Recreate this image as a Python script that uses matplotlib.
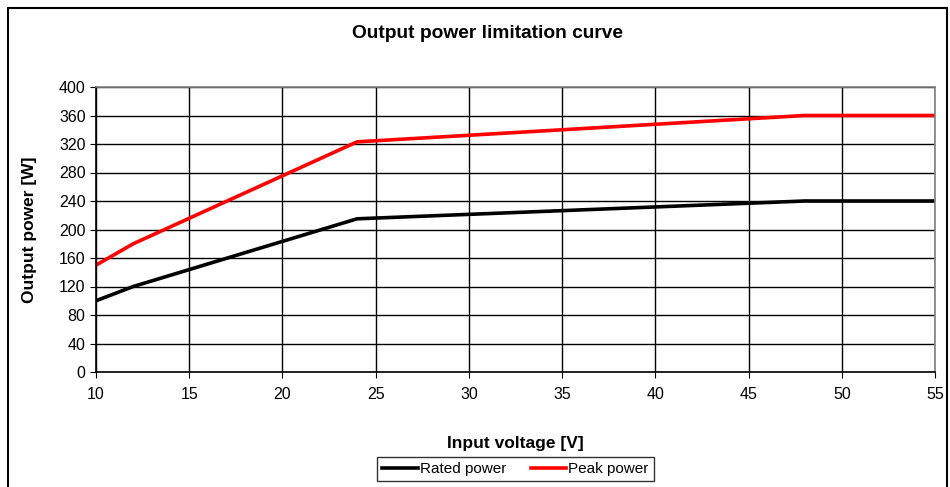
import matplotlib.pyplot as plt
from matplotlib.patches import Rectangle

plt.rcParams['font.family'] = ['Liberation Sans', 'DejaVu Sans']

# input voltage points [V]
voltage = [10, 12, 24, 48, 55]
rated_power = [100, 120, 215, 240, 240]
peak_power = [150, 180, 323, 360, 360]

x_ticks = [10, 15, 20, 25, 30, 35, 40, 45, 50, 55]
y_ticks = [0, 40, 80, 120, 160, 200, 240, 280, 320, 360, 400]

fig = plt.figure(figsize=(9.5, 4.87), dpi=100)
ax = fig.add_axes([96 / 950, 1 - 372 / 487, (935 - 96) / 950, (372 - 87) / 487])

ax.plot(voltage, rated_power, color='black', lw=2.6, label='Rated power')
ax.plot(voltage, peak_power, color='#ff0000', lw=2.6, label='Peak power')

ax.set_xlim(10, 55)
ax.set_ylim(0, 400)
ax.set_xticks(x_ticks)
ax.set_yticks(y_ticks)
ax.grid(True, color='black', lw=1)
ax.set_axisbelow(True)
for s in ax.spines.values():
    s.set_color('#808080')
    s.set_linewidth(1.2)
ax.spines['left'].set_color('black')
ax.spines['bottom'].set_color('black')
ax.tick_params(axis='both', labelsize=11.5, length=4, color='black', direction='out')
ax.tick_params(axis='x', pad=7)

ax.set_xlabel('Input voltage [V]', fontsize=12.5, fontweight='bold', labelpad=24)
ax.set_ylabel('Output power [W]', fontsize=12.5, fontweight='bold', labelpad=16)
fig.text(487 / 950, 1 - 33 / 487, 'Output power limitation curve', ha='center',
         va='center', fontsize=13.8, fontweight='bold')

leg = ax.legend(loc='upper center', bbox_to_anchor=(0.5, -0.27), ncol=2, frameon=True,
                fancybox=False, edgecolor='black', fontsize=11, handlelength=2.3,
                borderpad=0.35, columnspacing=1.6, handletextpad=0.15)
leg.get_frame().set_linewidth(1)

# outer chart border
fig.patches.append(Rectangle((8 / 950, -0.05), (947 - 8) / 950, 1.05 - 8 / 487,
                             transform=fig.transFigure, fill=False, edgecolor='black', lw=1.5))

fig.savefig('out.png', dpi=100)
